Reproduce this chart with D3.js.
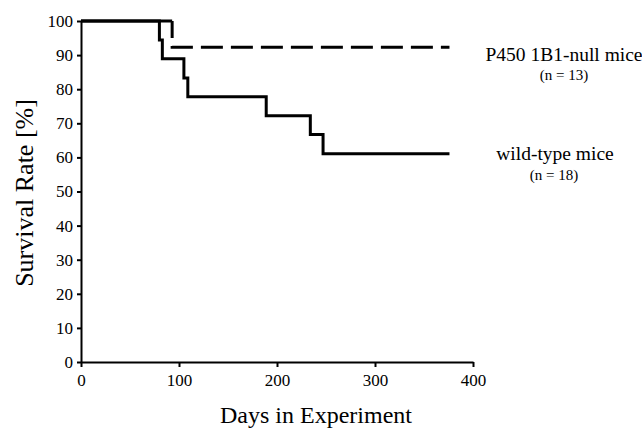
<!DOCTYPE html>
<html>
<head>
<meta charset="utf-8">
<script src="https://cdn.jsdelivr.net/npm/d3@7"></script>
<style>
  body { margin: 0; background: #fff; }
  svg text { font-family: "Liberation Serif", serif; }
</style>
</head>
<body>
<script>
// Kaplan-Meier style survival curves
const wildDays = [0, 80, 83, 105, 109, 189, 234, 247, 376]
const wildSurv = [100, 94.4, 88.9, 83.3, 77.8, 72.2, 66.7, 61.1, 61.1]
const nullDays = [0, 93, 376]
const nullSurv = [100, 92.3, 92.3]
const xTicks = [0, 100, 200, 300, 400]
const yTicks = [0, 10, 20, 30, 40, 50, 60, 70, 80, 90, 100]

const width = 642, height = 429
const serif = 'Liberation Serif'

let svg = d3.select('body').append('svg')
    .attr('width', width)
    .attr('height', height)

let x = d3.scaleLinear().domain([0, 400]).range([81, 473])
let y = d3.scaleLinear().domain([0, 100]).range([362, 21])

// turn event lists into step vertices
const steps = (days, surv) => {
    let pts = [[days[0], surv[0]]]
    for (let i = 1; i < days.length; i++) {
        pts.push([days[i], surv[i - 1]])
        pts.push([days[i], surv[i]])
    }
    return pts
}

let line = d3.line().x(d => x(d[0])).y(d => y(d[1]))

const styleAxis = g => {
    g.attr('font-family', serif).attr('font-size', 17)
    g.selectAll('text').attr('font-family', serif).attr('font-size', 17).attr('fill', '#000')
    g.selectAll('path,line').attr('stroke', '#000').attr('stroke-width', 2)
}

// axes
svg.append('g')
    .attr('transform', `translate(0,${y(0)})`)
    .call(d3.axisBottom(x).tickValues(xTicks).tickSize(5).tickSizeOuter(0).tickPadding(7))
    .call(styleAxis)

svg.append('g')
    .attr('transform', `translate(${x(0)},0)`)
    .call(d3.axisLeft(y).tickValues(yTicks).tickSize(4).tickSizeOuter(0).tickPadding(4))
    .call(styleAxis)

// null mice: solid until the first death, dashed afterwards
let nullPts = steps(nullDays, nullSurv)
svg.append('path')
    .attr('d', line(nullPts.slice(0, 2)))
    .attr('fill', 'none').attr('stroke', '#000').attr('stroke-width', 3)
svg.append('path')
    .attr('d', line(nullPts.slice(1)))
    .attr('fill', 'none').attr('stroke', '#000').attr('stroke-width', 3)
    .attr('stroke-dasharray', '22,8')
    .attr('stroke-dashoffset', 5)

// wild-type mice
svg.append('path')
    .attr('d', line(steps(wildDays, wildSurv)))
    .attr('fill', 'none').attr('stroke', '#000').attr('stroke-width', 3)
    .attr('stroke-linejoin', 'miter')

// labels
const label = (tx, ty, size, str) => svg.append('text')
    .attr('x', tx).attr('y', ty)
    .attr('text-anchor', 'middle')
    .attr('font-family', serif)
    .attr('font-size', size)
    .text(str)

label(564, 61, 19.5, 'P450 1B1-null mice')
label(564, 80, 15, '(n = 13)')
label(555, 160, 19.5, 'wild-type mice')
label(554, 180, 15, '(n = 18)')

label(316, 423, 24, 'Days in Experiment')

svg.append('text')
    .attr('transform', `translate(33,${193}) rotate(-90)`)
    .attr('text-anchor', 'middle')
    .attr('font-family', serif)
    .attr('font-size', 26)
    .text('Survival Rate [%]')
</script>
</body>
</html>
